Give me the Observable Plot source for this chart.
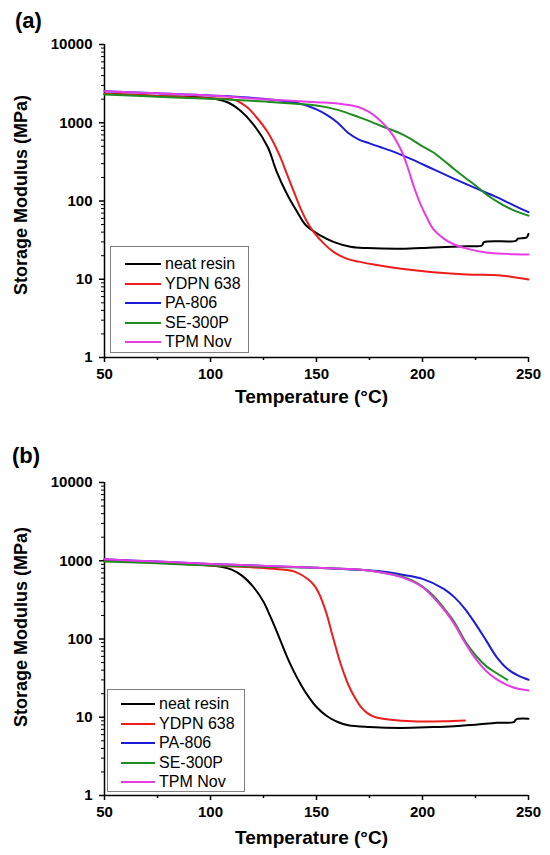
<!DOCTYPE html>
<html><head><meta charset="utf-8">
<script src="https://cdn.jsdelivr.net/npm/d3@7"></script>
<script src="https://cdn.jsdelivr.net/npm/@observablehq/plot@0.6"></script>
<style>
body{margin:0;background:#fff;font-family:"Liberation Sans",Arial,sans-serif;}
.panel{position:relative;width:550px;overflow:hidden;}
.plabel{position:absolute;font-weight:bold;font-size:22px;line-height:22px;}
.ytitle{position:absolute;font-weight:bold;font-size:18px;line-height:18px;white-space:nowrap;transform:translate(-50%,-50%) rotate(-90deg);}
.legend{position:absolute;border:1px solid #808080;background:#fff;box-sizing:border-box;}
.legend .row{position:absolute;height:20px;display:flex;align-items:center;font-size:16px;white-space:nowrap;}
.legend .sw{height:2px;margin-right:4px;}
</style></head><body>
<div class="panel" id="pa" style="height:420px"></div>
<div class="panel" id="pb" style="height:435px"></div>
<script>
// ---- data ----
const seriesNames = ["neat resin", "YDPN 638", "PA-806", "SE-300P", "TPM Nov"];
const seriesColors = ["#000000", "#ee1c1c", "#1c1cd8", "#1e8c1e", "#e63ce6"];
const xTicks = [50, 100, 150, 200, 250];
const xMinorTicks = [75, 125, 175, 225];
const yTicks = [1, 10, 100, 1000, 10000];
const yMinorTicks = [2,3,4,5,6,7,8,9,20,30,40,50,60,70,80,90,200,300,400,500,600,700,800,900,2000,3000,4000,5000,6000,7000,8000,9000];
const xTitle = "Temperature (°C)";
const yTitle = "Storage Modulus (MPa)";

// panel (a)
const aNeatT = [50, 75, 100, 108, 114, 120, 127, 131, 136, 141, 145, 152, 158, 166, 174, 190, 205, 221, 228, 229, 244, 245, 249, 250];
const aNeatE = [2350, 2200, 2060, 1830, 1435, 970, 490, 245, 124, 72, 49, 36, 30, 26, 25, 24.5, 25.5, 26.4, 27, 29.8, 31, 33, 34, 38];
const aYdpnT = [50, 75, 100, 111, 117, 122, 126.7, 130, 133, 136.2, 139.3, 142.5, 145.6, 148.7, 153.5, 158.2, 164.5, 170, 177, 190, 205, 221, 237, 250];
const aYdpnE = [2350, 2200, 2060, 1964, 1600, 1150, 780, 540, 360, 215, 132, 80, 54, 40, 28.5, 22.2, 18.2, 16.8, 15.4, 13.6, 12.3, 11.5, 11.2, 9.9];
const aPaT = [50, 75, 100, 125, 142, 150, 155, 160, 165, 170, 175, 180, 185, 195, 205, 215, 225, 235, 245, 250];
const aPaE = [2535, 2380, 2230, 2020, 1760, 1480, 1250, 1000, 740, 610, 545, 490, 440, 340, 255, 192, 146, 112, 83, 72];
const aSeT = [50, 75, 100, 130, 140, 150, 160, 170, 180, 190, 195, 200, 205, 210, 215, 220, 225, 230, 237, 243, 250];
const aSeE = [2296, 2150, 2020, 1834, 1746, 1662, 1462, 1178, 923, 722, 610, 500, 420, 330, 255, 200, 158, 122, 92, 76, 65];
const aTpmT = [50, 75, 100, 125, 150, 160, 170, 175, 180, 185, 190, 193, 196, 199, 202, 205, 210, 215, 220, 230, 240, 250];
const aTpmE = [2535, 2380, 2230, 2000, 1834, 1760, 1580, 1370, 1070, 760, 442, 270, 150, 92, 62, 44, 33, 27.8, 25, 22, 21.1, 20.7];

// panel (b)
const bNeatT = [50, 75, 100, 105, 110, 115, 120, 125, 128, 130, 133, 136, 139, 142, 145, 150, 155, 160, 165, 175, 190, 205, 215, 225, 235, 243, 244, 245, 250];
const bNeatE = [1030, 950, 869, 840, 770, 640, 470, 300, 200, 150, 95, 60, 40, 28, 20.5, 13.5, 10.3, 8.7, 7.9, 7.5, 7.3, 7.5, 7.7, 8.0, 8.5, 8.65, 9.3, 9.55, 9.6];
const bYdpnT = [50, 75, 100, 125, 135, 140, 146, 149, 151, 153, 155, 157, 159, 161, 163, 165, 168, 171, 174, 177, 180, 185, 195, 210, 220];
const bYdpnE = [1030, 950, 870, 805, 766, 720, 580, 480, 390, 290, 200, 125, 80, 52, 36, 26, 18, 13.5, 11.3, 10.2, 9.7, 9.3, 8.9, 8.9, 9.1];
const bPaT = [50, 75, 100, 150, 180, 190, 200, 210, 215, 220, 225, 230, 235, 240, 245, 250];
const bPaE = [1047, 975, 912, 811, 736, 667, 587, 438, 343, 243, 156, 96, 58.6, 41.6, 34.2, 30.1];
const bSeT = [50, 75, 100, 150, 170, 180, 190, 195, 200, 205, 210, 215, 220, 225, 230, 235, 240];
const bSeE = [981, 930, 870, 811, 772, 714, 630, 560, 469, 360, 250, 165, 95, 62, 45, 36.5, 30.1];
const bTpmT = [50, 75, 100, 150, 170, 180, 190, 200, 210, 215, 220, 225, 230, 235, 240, 245, 250];
const bTpmE = [1047, 975, 912, 811, 772, 714, 617, 459, 240, 155, 90, 56, 39, 30.5, 25.8, 23.1, 22];

function rows(Ts, Es) {
  return Ts.flatMap((T, k) => T.map((t, i) => ({T: t, E: Es[k][i], name: seriesNames[k]})));
}
const dataA = rows([aNeatT, aYdpnT, aPaT, aSeT, aTpmT], [aNeatE, aYdpnE, aPaE, aSeE, aTpmE]);
const dataB = rows([bNeatT, bYdpnT, bPaT, bSeT, bTpmT], [bNeatE, bYdpnE, bPaE, bSeE, bTpmE]);

function makePlot(data, height, top, titleDy) {
  const plotH = 313;
  return Plot.plot({
    width: 550, height,
    marginLeft: 104, marginRight: 22, marginTop: top, marginBottom: height - top - plotH,
    style: {fontFamily: "'Liberation Sans', Arial, sans-serif", fontSize: "15px", fontWeight: "bold", color: "#000", background: "#fff", overflow: "visible"},
    x: {domain: [50, 250]},
    y: {type: "log", domain: [1, 10000]},
    color: {domain: seriesNames, range: seriesColors},
    marks: [
      Plot.axisX({ticks: xTicks, tickSize: 5, tickPadding: 6, label: null, tickFormat: d => String(d), strokeWidth: 1.5}),
      Plot.axisX({ticks: xMinorTicks, tickSize: 3, tickFormat: () => "", label: null, strokeWidth: 1.5}),
      Plot.axisY({ticks: yTicks, tickSize: 5, tickPadding: 7, label: null, tickFormat: d => String(d), strokeWidth: 1.5}),
      Plot.axisY({ticks: yMinorTicks, tickSize: 3, tickFormat: () => "", label: null, strokeWidth: 1}),
      Plot.ruleX([50], {stroke: "#000", strokeWidth: 1.5}),
      Plot.ruleY([1], {stroke: "#000", strokeWidth: 1.5}),
      Plot.line(data, {x: "T", y: "E", z: "name", stroke: "name", strokeWidth: 2, curve: "catmull-rom"}),
      Plot.text([xTitle], {frameAnchor: "bottom", dx: -5, dy: titleDy, fontSize: 19, fontWeight: "bold", fill: "#000"})
    ]
  });
}

function addPanel(id, label, labelPos, yTitleCenter, data, height, top, titleDy, leg) {
  const host = document.getElementById(id);
  host.appendChild(makePlot(data, height, top, titleDy));
  const lab = document.createElement("div");
  lab.className = "plabel";
  lab.textContent = label;
  lab.style.left = labelPos[0] + "px";
  lab.style.top = labelPos[1] + "px";
  host.appendChild(lab);
  const yt = document.createElement("div");
  yt.className = "ytitle";
  yt.textContent = yTitle;
  yt.style.left = yTitleCenter[0] + "px";
  yt.style.top = yTitleCenter[1] + "px";
  host.appendChild(yt);
  const box = document.createElement("div");
  box.className = "legend";
  Object.assign(box.style, {left: leg.left + "px", top: leg.top + "px", width: leg.w + "px", height: leg.h + "px"});
  seriesNames.forEach((n, i) => {
    const r = document.createElement("div");
    r.className = "row";
    r.style.left = leg.lineLeft + "px";
    r.style.top = (leg.first + i * leg.step - 10) + "px";
    const sw = document.createElement("span");
    sw.className = "sw";
    sw.style.width = leg.lineW + "px";
    sw.style.background = seriesColors[i];
    const t = document.createElement("span");
    t.textContent = n;
    r.appendChild(sw); r.appendChild(t);
    box.appendChild(r);
  });
  host.appendChild(box);
}

addPanel("pa", "(a)", [15, 10], [21, 195], dataA, 420, 44, 45,
  {left: 110, top: 246, w: 139, h: 107, lineLeft: 14, lineW: 36, first: 17, step: 19.6});
addPanel("pb", "(b)", [12, 25], [21, 207], dataB, 435, 62, 48,
  {left: 107, top: 269, w: 138, h: 103, lineLeft: 13, lineW: 34, first: 14, step: 19.6});
</script>
</body></html>
